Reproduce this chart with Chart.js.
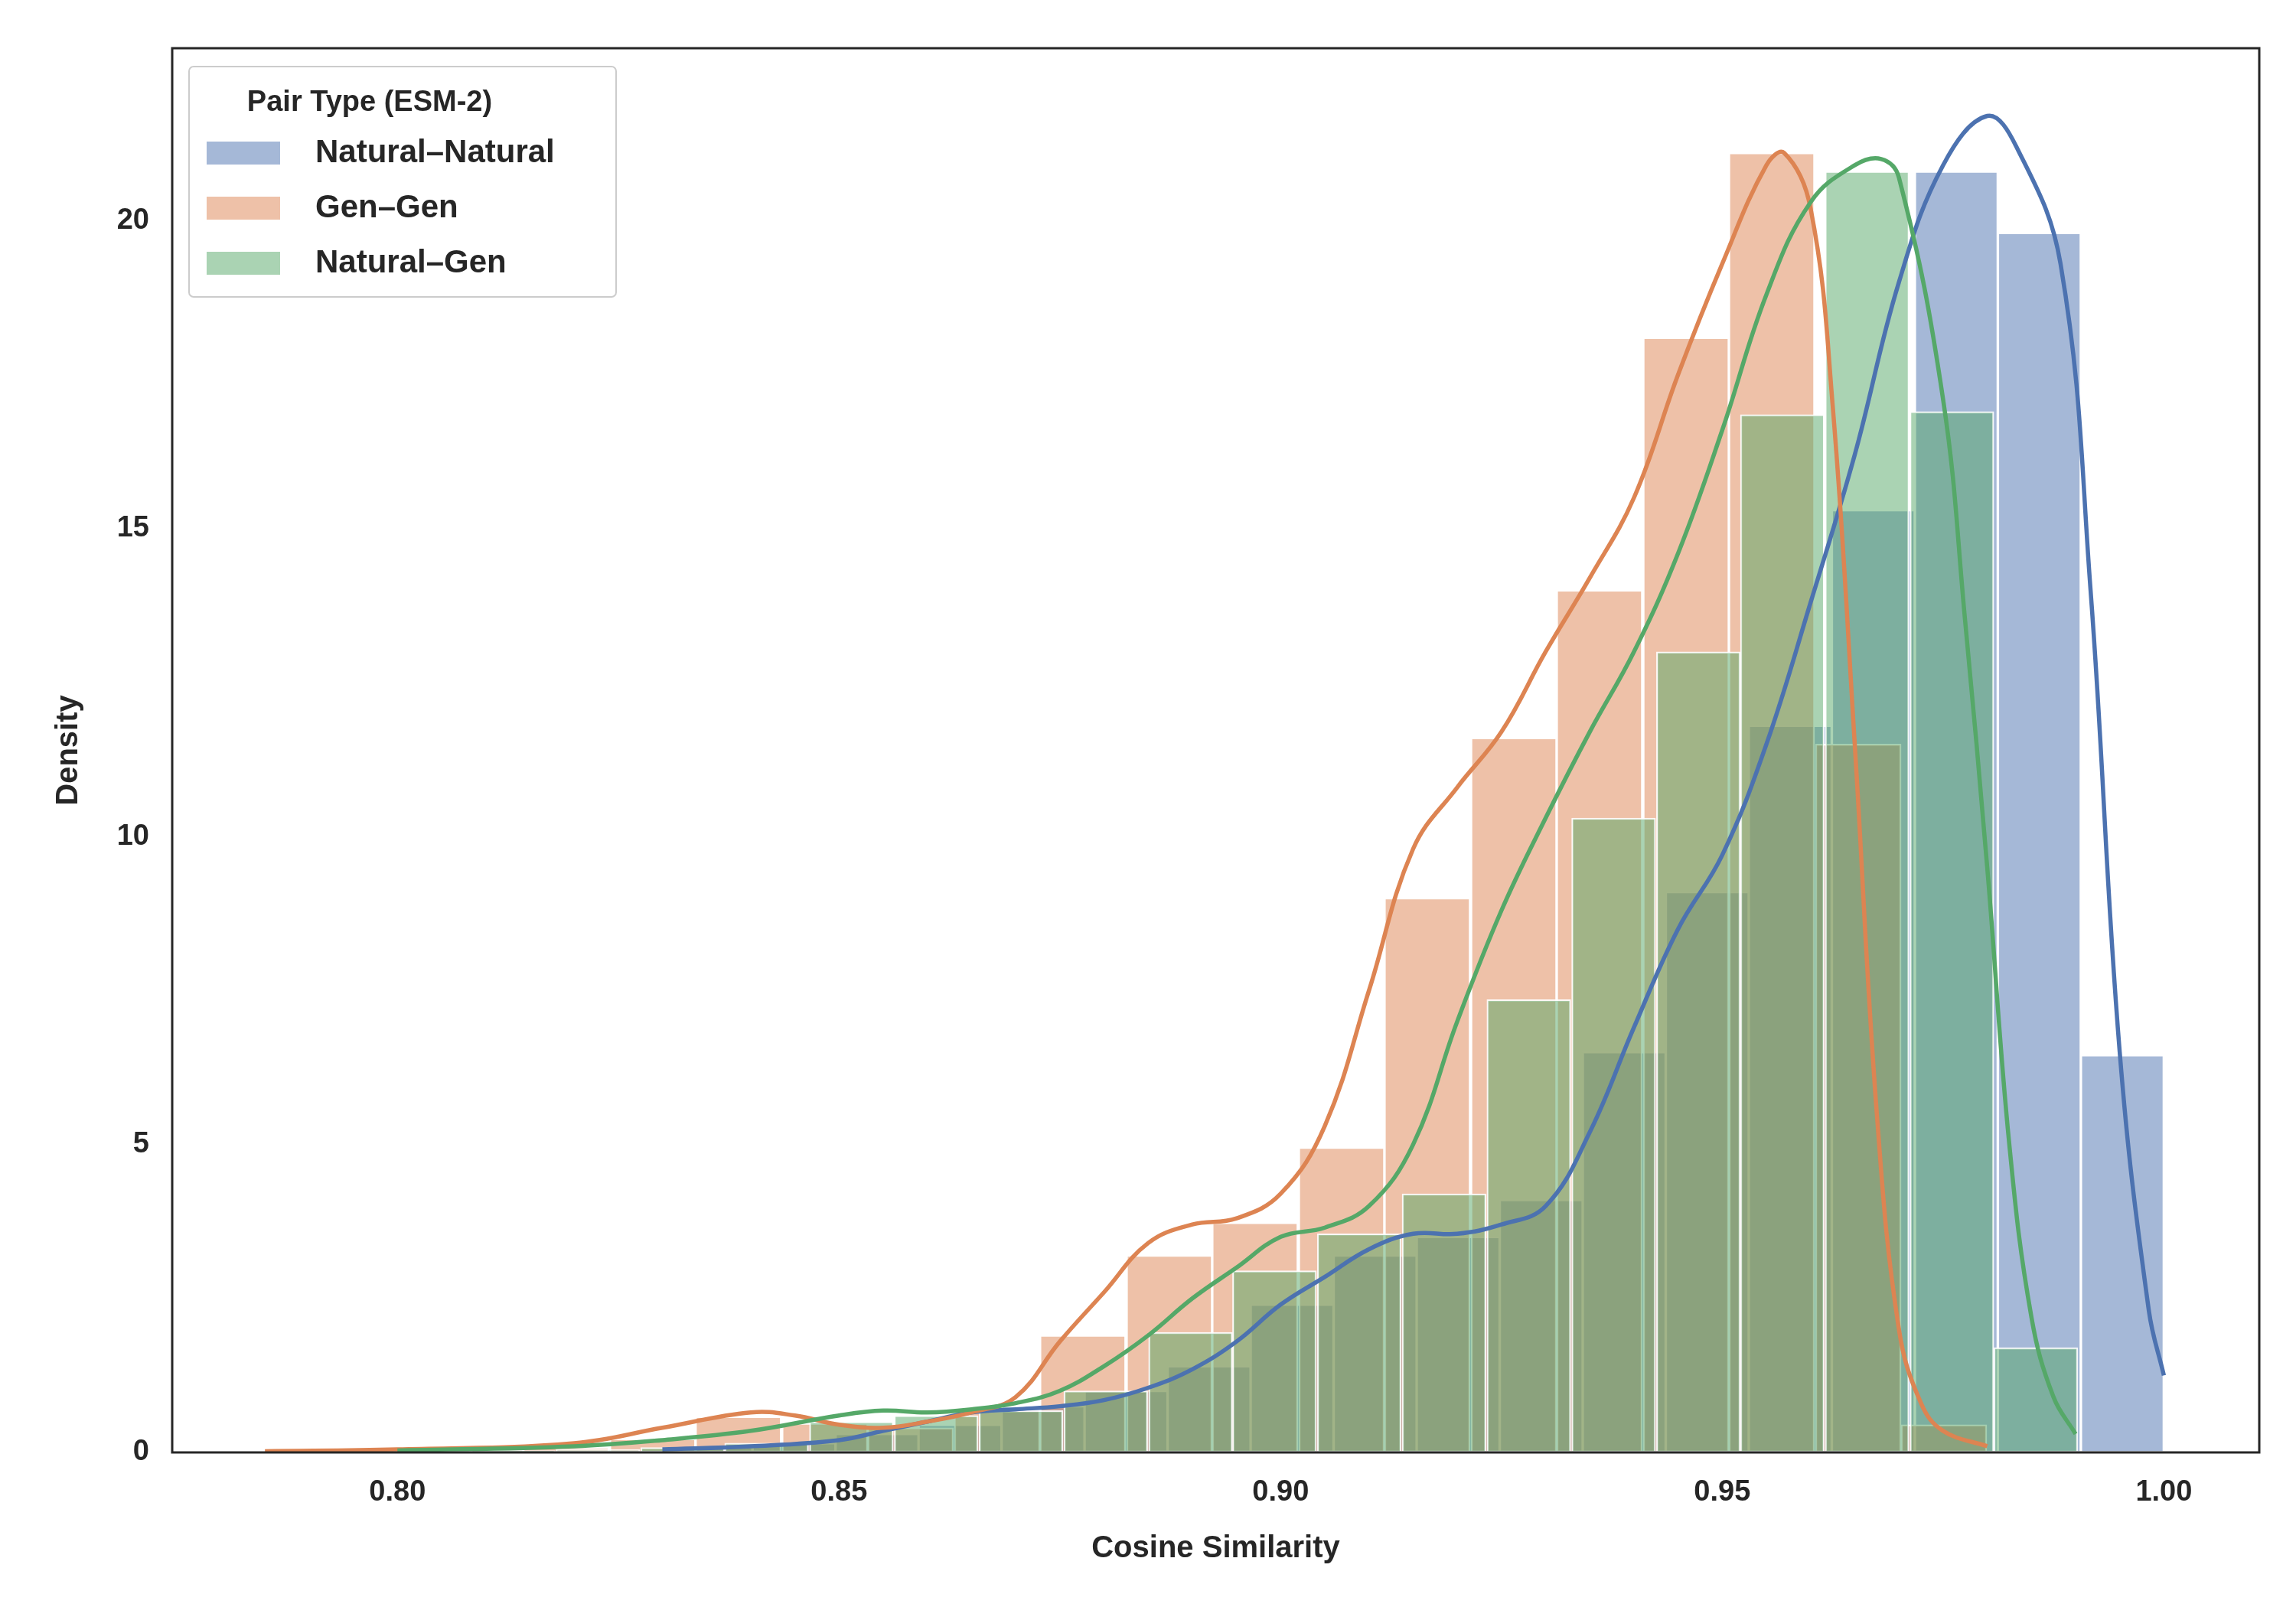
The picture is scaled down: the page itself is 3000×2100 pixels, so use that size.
<!DOCTYPE html>
<html>
<head>
<meta charset="utf-8">
<script src="https://cdn.jsdelivr.net/npm/chart.js@4/dist/chart.umd.min.js"></script>
<style>
  html, body { margin: 0; padding: 0; background: #fff; }
  #wrap { width: 3000px; height: 2100px; }
</style>
</head>
<body>
<div id="wrap"><canvas id="chart"></canvas></div>
<script>
// Histogram bins (bin centres + density)
const natNatCenters = [0.8167,0.8261,0.8355,0.8449,0.8543,0.8637,0.8731,0.8825,0.8919,0.9013,
                       0.9107,0.9201,0.9295,0.9389,0.9483,0.9577,0.9671,0.9765,0.9859,0.9953];
const natNatValues  = [0.03,0.05,0.1,0.15,0.3,0.45,0.75,1.0,1.4,2.4,
                       3.2,3.5,4.1,6.5,9.1,11.8,15.3,20.8,19.8,6.45];

const genGenCenters = [0.7899,0.7996,0.8094,0.8191,0.8289,0.8386,0.8484,0.8581,0.8679,0.8776,
                       0.8874,0.8971,0.9069,0.9166,0.9264,0.9361,0.9459,0.9556,0.9654,0.9751];
const genGenValues  = [0.03,0.03,0.05,0.08,0.22,0.58,0.47,0.4,0.7,1.9,
                       3.2,3.73,4.95,9.0,11.6,14.0,18.1,21.1,11.5,0.45];

const natGenCenters = [0.8035,0.8131,0.8227,0.8323,0.8418,0.8514,0.8610,0.8706,0.8802,0.8898,
                       0.8993,0.9089,0.9185,0.9281,0.9377,0.9473,0.9568,0.9664,0.9760,0.9855];
const natGenValues  = [0.02,0.03,0.05,0.08,0.15,0.5,0.6,0.68,1.0,1.95,
                       2.95,3.55,4.2,7.35,10.3,13.0,16.85,20.8,16.9,1.7];

// KDE curves
const natNatKdeX = [0.83,0.84,0.85,0.855,0.86,0.865,0.87,0.875,0.88,0.885,0.89,0.895,0.90,0.905,0.91,0.915,0.92,0.925,0.93,0.935,0.94,0.945,0.95,0.955,0.96,0.965,0.97,0.975,0.98,0.9833,0.9883,0.9917,0.995,0.9983,1.0];
const natNatKdeY = [0.05,0.1,0.2,0.35,0.5,0.65,0.7,0.75,0.85,1.05,1.35,1.8,2.4,2.85,3.3,3.55,3.55,3.7,4.0,5.2,6.9,8.5,9.7,11.5,13.8,16.2,19.0,20.9,21.7,21.2,19.3,14.0,6.5,2.3,1.25];

const genGenKdeX = [0.785,0.80,0.82,0.83,0.84,0.845,0.85,0.855,0.86,0.865,0.87,0.875,0.88,0.885,0.89,0.895,0.90,0.905,0.91,0.915,0.92,0.925,0.93,0.935,0.94,0.945,0.95,0.955,0.957,0.96,0.9625,0.965,0.9675,0.97,0.9725,0.975,0.98];
const genGenKdeY = [0.02,0.05,0.15,0.4,0.65,0.6,0.45,0.4,0.5,0.65,0.9,1.8,2.6,3.4,3.7,3.8,4.2,5.3,7.5,9.8,10.8,11.7,13.0,14.2,15.5,17.5,19.3,20.9,21.1,20.2,17.0,11.5,5.5,2.0,0.8,0.35,0.1];

const natGenKdeX = [0.80,0.82,0.83,0.84,0.85,0.855,0.86,0.865,0.87,0.875,0.88,0.885,0.89,0.895,0.90,0.905,0.91,0.915,0.92,0.925,0.93,0.935,0.94,0.945,0.95,0.955,0.96,0.965,0.968,0.97,0.975,0.9775,0.98,0.9825,0.985,0.9875,0.99];
const natGenKdeY = [0.03,0.1,0.2,0.35,0.6,0.68,0.65,0.7,0.8,1.0,1.4,1.9,2.5,3.0,3.5,3.65,4.0,5.0,7.0,8.8,10.3,11.7,13.0,14.6,16.6,18.8,20.3,20.9,21.0,20.7,17.1,13.5,9.5,5.0,2.2,0.9,0.3];

const xTicks = [0.80, 0.85, 0.90, 0.95, 1.00];
const yTicks = [0, 5, 10, 15, 20];
const legendTitle = "Pair Type (ESM-2)";

const X_MIN = 0.7745, X_MAX = 1.0108, Y_MAX = 22.8;
const FONT = "'Liberation Sans', Arial, sans-serif";
const BLUE = "#4c72b0", ORANGE = "#dd8452", GREEN = "#55a868";

function alpha(hex, a) {
  const n = parseInt(hex.slice(1), 16);
  return `rgba(${n >> 16},${(n >> 8) & 255},${n & 255},${a})`;
}
const pts = (xs, ys) => xs.map((x, i) => ({ x: x, y: ys[i] }));

function barSet(label, xs, ys, color, axis, order) {
  return {
    type: "bar", label: label, data: pts(xs, ys), xAxisID: axis, order: order,
    backgroundColor: alpha(color, 0.5), borderColor: "rgba(255,255,255,0.9)",
    borderWidth: 2, borderSkipped: false, grouped: false,
    barPercentage: 1, categoryPercentage: 1
  };
}
function kdeSet(xs, ys, color, order) {
  return {
    type: "line", data: pts(xs, ys), xAxisID: "x", order: order,
    borderColor: color, borderWidth: 5.5, pointRadius: 0, tension: 0.4, fill: false
  };
}
const hiddenX = { type: "linear", min: X_MIN, max: X_MAX, display: false, offset: false };

// frame round the plot, plus the legend drawn inside the plot
const framePlugin = {
  id: "frame",
  afterDraw(chart) {
    const { ctx, chartArea: a } = chart;
    ctx.save();
    ctx.strokeStyle = "#262626";
    ctx.lineWidth = 3;
    ctx.strokeRect(a.left, a.top, a.right - a.left, a.bottom - a.top);

    const bx = a.left + 22, by = a.top + 24, bw = 558, bh = 301;
    ctx.fillStyle = "rgba(255,255,255,0.8)";
    ctx.strokeStyle = "#cccccc";
    ctx.lineWidth = 2;
    ctx.beginPath();
    ctx.roundRect(bx, by, bw, bh, 6);
    ctx.fill();
    ctx.stroke();

    ctx.fillStyle = "#262626";
    ctx.textBaseline = "middle";
    ctx.textAlign = "center";
    ctx.font = `bold 38px ${FONT}`;
    ctx.fillText(legendTitle, bx + 236, by + 48);
    ctx.textAlign = "left";
    ctx.font = `bold 42px ${FONT}`;
    chart.data.datasets.filter(d => d.label).forEach((d, i) => {
      const cy = by + 113 + i * 72;
      ctx.fillStyle = d.backgroundColor;
      ctx.fillRect(bx + 23, cy - 15, 96, 30);
      ctx.fillStyle = "#262626";
      ctx.fillText(d.label, bx + 165, cy);
    });
    ctx.restore();
  }
};

new Chart(document.getElementById("chart"), {
  data: {
    datasets: [
      barSet("Natural\u2013Natural", natNatCenters, natNatValues, BLUE, "xb", 6),
      barSet("Gen\u2013Gen", genGenCenters, genGenValues, ORANGE, "xo", 5),
      barSet("Natural\u2013Gen", natGenCenters, natGenValues, GREEN, "xg", 4),
      kdeSet(natNatKdeX, natNatKdeY, BLUE, 3),
      kdeSet(genGenKdeX, genGenKdeY, ORANGE, 2),
      kdeSet(natGenKdeX, natGenKdeY, GREEN, 1)
    ]
  },
  options: {
    responsive: true, maintainAspectRatio: false, animation: false,
    devicePixelRatio: 1,
    layout: { padding: { top: 63, right: 48, left: 62, bottom: 48 } },
    scales: {
      x: {
        type: "linear", min: X_MIN, max: X_MAX, offset: false,
        afterBuildTicks: s => { s.ticks = xTicks.map(v => ({ value: v })); },
        afterFit: s => { s.height = 154; },
        grid: { display: false }, border: { display: false },
        ticks: { color: "#262626", padding: 22, font: { family: FONT, size: 38, weight: "bold" },
                 callback: v => v.toFixed(2) },
        title: { display: true, text: "Cosine Similarity", color: "#262626", padding: { top: 8 },
                 font: { family: FONT, size: 40, weight: "bold" } }
      },
      xb: hiddenX, xo: hiddenX, xg: hiddenX,
      y: {
        min: 0, max: Y_MAX,
        afterBuildTicks: s => { s.ticks = yTicks.map(v => ({ value: v })); },
        afterFit: s => { s.width = 163; },
        grid: { display: false }, border: { display: false },
        ticks: { color: "#262626", padding: 22, font: { family: FONT, size: 38, weight: "bold" } },
        title: { display: true, text: "Density", color: "#262626", padding: { bottom: 10 },
                 font: { family: FONT, size: 40, weight: "bold" } }
      }
    },
    plugins: {
      legend: { display: false },
      tooltip: { enabled: false }
    }
  },
  plugins: [framePlugin]
});
</script>
</body>
</html>
